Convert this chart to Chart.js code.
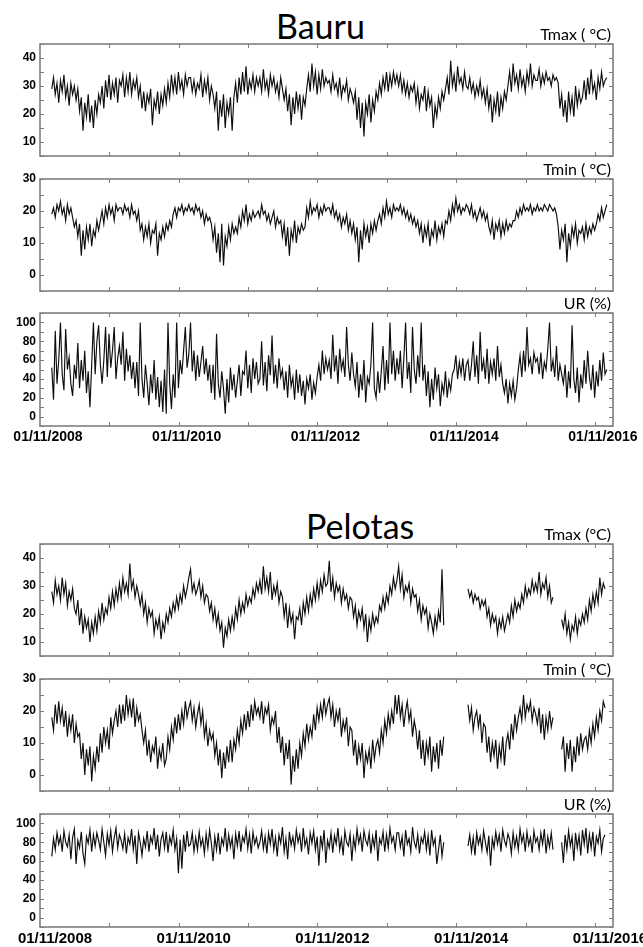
<!DOCTYPE html>
<html lang="pt-BR">
  <head>
    <meta charset="UTF-8" />
    <title>Bauru e Pelotas - séries diárias</title>
    <script src="https://cdn.jsdelivr.net/npm/chart.js"></script>
    <style>
      body { margin: 0; background: #fff; width: 643px; height: 947px; position: relative; overflow: hidden; }
      .painel { position: absolute; left: 0; }
      .cidade { position: absolute; font-family: Lato, sans-serif; font-size: 34px; line-height: 34px; color: #000; }
    </style>
  </head>
<body>
    <div class="cidade" style="left:276px; top:9px;">Bauru</div>
    <div class="painel" style="top:22px"><canvas id="bauruTmax" width="643" height="138"></canvas></div>
    <div class="painel" style="top:157px"><canvas id="bauruTmin" width="643" height="138"></canvas></div>
    <div class="painel" style="top:291px"><canvas id="bauruUR" width="643" height="157"></canvas></div>

    <div class="cidade" style="left:306px; top:509px;">Pelotas</div>
    <div class="painel" style="top:522px"><canvas id="pelotasTmax" width="643" height="138"></canvas></div>
    <div class="painel" style="top:657px"><canvas id="pelotasTmin" width="643" height="138"></canvas></div>
    <div class="painel" style="top:792px"><canvas id="pelotasUR" width="643" height="157"></canvas></div>

  <script>
    // eixo x em anos contados a partir de 01/11/2008; um valor a cada 0,025 ano (~9 dias), 40 por linha
    var inicio = 0.17;
    var passo = 0.025;
    var anosRotulos = [0, 2, 4, 6, 8];
    var rotulosX = ["01/11/2008", "01/11/2010", "01/11/2012", "01/11/2014", "01/11/2016"];
    var ticksTmax = [10, 20, 30, 40];
    var ticksTmin = [0, 10, 20, 30];
    var ticksUR = [0, 20, 40, 60, 80, 100];

    //BAURU
    var tmaxBauru = [
        29,33,27,31,24,32,28,34,26,30,23,31,27,30,25,29,21,26,14,24,19,27,17,23,15,25,20,27,24,30,22,32,26,34,25,31,27,33,24,32,
        30,34,26,33,28,35,27,32,29,33,26,30,22,28,21,27,24,29,16,25,22,28,20,27,23,29,24,31,26,34,28,33,27,35,29,32,27,34,30,33,
        33,28,32,27,31,29,34,26,32,28,33,25,30,27,22,28,14,25,19,27,15,24,20,26,14,26,31,24,33,27,35,28,37,27,32,29,34,28,33,30,
        33,28,36,29,32,27,34,30,33,28,31,26,33,29,25,29,21,27,16,26,20,28,22,27,18,26,23,29,34,28,38,30,35,27,34,29,36,30,33,31,
        32,28,34,29,31,27,33,26,30,28,32,25,29,27,24,28,18,26,15,24,12,24,20,27,17,25,21,28,25,31,27,33,29,35,28,34,30,35,31,34,
        30,34,28,32,27,31,26,30,28,31,24,29,22,27,25,30,21,28,23,26,15,23,19,26,22,28,25,29,33,27,39,30,34,28,37,31,33,29,35,30,
        29,33,28,31,26,30,27,32,26,29,24,29,22,27,17,25,21,28,19,26,22,28,25,30,35,28,38,31,34,29,36,30,33,28,35,31,38,30,34,32,
        32,36,30,34,31,35,32,33,30,34,32,33,31,22,27,19,25,17,28,21,26,19,30,23,28,24,26,32,25,33,27,36,28,31,25,33,29,35,30,32,
        33
    ];
    var tminBauru = [
        19,21,18,22,20,23,19,21,17,22,19,21,18,15,17,12,16,6,14,8,15,11,16,9,14,12,17,14,17,20,16,21,18,22,19,21,17,22,20,21,
        21,19,22,20,21,18,22,19,20,17,20,14,16,11,15,12,16,10,14,13,16,6,13,11,15,12,16,14,17,15,19,21,18,21,20,22,19,21,20,22,
        20,21,19,22,20,21,18,20,16,19,17,18,16,11,15,7,13,4,16,3,12,9,15,11,16,13,15,13,18,15,20,17,22,16,19,17,20,18,19,20,
        18,22,19,20,17,19,16,18,20,15,18,16,17,12,16,9,15,6,14,11,17,10,15,13,16,14,15,21,18,23,19,21,20,22,18,21,19,22,20,21,
        21,19,22,18,20,17,19,15,18,16,19,14,17,13,16,11,15,4,14,8,16,12,15,10,16,13,17,14,17,19,16,21,18,23,19,21,18,22,20,21,
        20,22,19,21,18,20,17,19,16,18,15,17,13,16,10,15,12,16,9,14,12,17,11,15,13,16,12,17,16,20,17,22,19,24,20,22,19,21,20,22,
        21,19,22,18,20,17,19,21,18,20,17,19,15,13,17,11,16,14,17,12,16,13,17,14,16,15,17,17,20,18,21,19,22,20,21,20,22,19,21,20,
        22,20,21,20,22,21,20,22,21,20,21,19,15,8,14,11,16,4,13,9,15,12,16,10,14,13,15,11,16,12,15,13,16,14,16,19,17,21,18,20,
        22
    ];
    var urBauru = [
        52,18,91,35,60,100,45,28,93,50,63,35,22,55,40,78,30,60,38,70,25,48,10,55,100,45,80,97,55,35,60,95,42,88,52,70,95,40,62,75,
        55,90,38,72,48,65,40,58,30,58,22,100,40,20,55,35,12,45,25,60,18,42,10,38,5,50,3,100,35,8,45,20,100,30,60,45,70,95,52,66,
        100,48,70,38,65,42,58,75,45,62,38,55,25,55,18,88,35,20,48,30,3,40,15,52,28,45,20,38,55,22,48,45,70,30,55,25,62,40,58,35,
        40,80,33,58,27,65,44,86,35,55,30,62,42,50,28,48,20,55,32,42,18,50,25,45,22,38,13,40,30,45,18,36,25,42,55,38,70,45,62,50,
        60,40,87,48,65,35,72,50,60,42,95,55,38,68,45,32,58,20,45,28,60,15,42,35,55,100,30,20,48,25,48,75,28,60,35,100,45,70,38,62,
        45,70,30,62,100,40,58,25,95,50,35,65,42,100,38,55,22,48,10,40,18,52,30,45,11,35,25,48,20,38,28,45,50,65,40,58,45,62,38,55,
        60,38,55,80,42,65,35,90,48,60,40,72,35,58,45,62,38,75,42,55,35,25,40,14,35,22,38,18,30,50,65,42,70,48,95,55,62,45,68,58,
        62,45,68,40,58,50,72,100,48,60,42,75,38,55,45,35,55,20,48,30,97,40,25,52,15,45,30,60,35,70,42,28,55,20,48,32,60,38,68,45,
        50
    ];

    //PELOTAS (null = falha nos dados)
    var tmaxPelotas = [
        28,24,32,27,30,25,33,27,31,23,28,25,29,22,20,25,16,22,13,19,15,18,10,17,13,19,14,21,17,24,18,22,20,26,22,28,23,29,25,31,
        26,33,28,31,27,38,29,32,26,30,27,23,27,20,24,17,22,19,21,13,18,15,19,11,17,14,20,17,22,19,24,21,26,22,27,24,30,26,29,33,
        36,28,31,27,29,32,26,30,24,27,26,21,24,18,22,16,20,14,17,8,15,12,18,14,19,15,22,18,25,20,24,21,27,23,26,24,29,26,31,28,
        32,27,37,29,33,28,35,25,30,27,31,24,28,26,19,24,15,22,17,20,11,19,18,22,16,24,20,26,21,27,23,29,25,31,26,32,28,34,30,31,
        39,28,33,26,31,28,30,24,29,25,27,22,26,25,19,23,16,21,18,22,15,20,10,18,14,20,16,19,17,23,21,26,22,27,24,30,27,33,29,32,
        37,29,34,26,30,28,31,24,29,26,27,21,25,18,23,20,22,15,20,17,13,19,15,21,17,36,16,null,null,null,null,null,null,null,null,null,null,null,null,null,
        29,26,28,24,27,25,26,22,25,23,25,19,22,16,20,17,19,13,18,15,19,14,17,20,17,23,19,25,21,24,22,27,24,30,26,29,27,32,28,31,
        28,35,27,31,29,33,26,30,24,26,null,null,null,null,18,15,20,13,17,11,16,14,19,13,18,16,20,17,22,18,25,21,27,23,28,24,33,27,31,29,
        null
    ];
    var tminPelotas = [
        18,14,22,16,23,17,21,15,20,12,18,14,19,10,16,12,13,5,10,0,8,3,9,-2,6,2,9,4,13,7,15,10,14,8,18,13,17,20,15,22,
        16,22,17,25,19,23,18,24,15,21,17,19,14,10,14,6,11,4,9,7,12,2,8,5,10,3,5,12,8,15,11,18,13,19,14,20,16,23,18,21,
        23,17,21,15,19,22,16,20,12,16,9,14,11,13,6,10,3,8,-1,7,2,9,4,11,4,11,8,14,10,17,13,19,14,20,15,22,17,23,19,21,
        18,23,16,21,19,22,14,18,16,20,10,15,7,12,3,10,5,11,-3,6,1,8,2,10,6,13,9,16,11,15,12,19,14,21,17,22,18,24,19,22,
        24,18,22,15,20,17,21,12,17,14,18,9,15,14,6,11,3,9,5,10,-1,7,4,8,2,11,5,9,11,7,14,10,17,13,19,15,20,16,25,19,
        25,18,22,15,20,23,17,20,12,17,14,8,14,5,11,3,10,6,12,1,9,4,10,2,11,6,12,null,null,null,null,null,null,null,null,null,null,null,null,null,
        22,17,21,14,18,20,15,19,10,16,15,7,12,4,10,6,11,2,9,5,12,3,10,13,8,16,11,19,14,18,21,17,25,18,22,20,23,17,21,19,
        16,21,13,19,11,18,14,20,15,18,null,null,null,null,8,12,1,10,5,11,1,9,4,12,6,13,8,11,12,8,14,10,16,12,18,14,20,17,23,21,
        null
    ];
    var urPelotas = [
        65,84,72,90,78,86,70,92,80,75,88,62,85,94,57,82,74,91,68,57,86,79,93,70,88,76,90,82,72,94,80,66,89,77,92,70,85,95,74,88,
        82,73,89,68,85,78,94,72,87,57,90,80,66,84,75,92,70,86,79,95,72,88,65,83,90,74,91,69,86,78,93,72,84,47,83,52,88,70,92,76,
        78,90,70,85,72,91,76,84,68,89,74,93,79,60,86,72,90,67,84,77,95,70,88,75,85,62,89,76,92,70,86,80,94,73,88,68,91,78,85,74,
        80,92,73,86,68,90,78,94,72,85,65,88,79,96,70,84,62,91,77,86,73,93,80,88,70,95,76,84,67,90,79,92,72,86,55,87,74,93,58,82,
        74,90,69,87,78,95,72,84,66,92,80,76,89,60,85,73,94,79,88,70,92,82,77,90,68,86,75,93,60,84,78,91,70,88,74,95,80,86,72,90,
        90,75,86,65,93,78,84,70,96,80,74,88,68,85,79,91,72,87,66,93,77,84,57,72,88,65,80,null,null,null,null,null,null,null,null,null,null,null,null,null,
        76,88,70,85,66,90,78,86,72,92,80,69,87,55,84,74,91,78,88,70,93,82,76,89,83,68,90,75,86,72,94,80,88,70,91,77,85,69,92,80,
        85,72,90,78,94,68,86,75,90,72,null,null,null,null,80,58,88,72,92,76,86,60,90,74,87,66,93,78,95,68,88,74,91,65,86,79,93,70,84,88,
        null
    ];

    // moldura cinza com marcas internas (estilo matlab) e nome da variável acima
    const moldura = {
        id: "moldura",
        afterDraw(chart, args, opts) {
            const ctx = chart.ctx;
            const a = chart.chartArea;
            const sx = chart.scales.x;
            const sy = chart.scales.y;
            ctx.save();
            ctx.strokeStyle = "#7f7f7f";
            ctx.lineWidth = 1;
            ctx.beginPath();
            for (let v = Math.ceil(sy.min / opts.passoY) * opts.passoY; v <= sy.max; v += opts.passoY) {
                const py = Math.round(sy.getPixelForValue(v)) + 0.5;
                ctx.moveTo(a.left, py); ctx.lineTo(a.left + 4, py);
                ctx.moveTo(a.right, py); ctx.lineTo(a.right - 4, py);
            }
            for (let ano = 1; ano <= Math.floor(sx.max); ano++) {
                const px = Math.round(sx.getPixelForValue(ano)) + 0.5;
                ctx.moveTo(px, a.top); ctx.lineTo(px, a.top + 4);
                ctx.moveTo(px, a.bottom); ctx.lineTo(px, a.bottom - 4);
            }
            ctx.stroke();
            ctx.lineWidth = 1.6;
            ctx.strokeRect(a.left, a.top, a.width, a.height);
            ctx.fillStyle = "#000";
            ctx.font = "16px Lato";
            ctx.textAlign = "right";
            ctx.textBaseline = "alphabetic";
            ctx.fillText(opts.rotulo, a.right - 2, a.top - 4);
            ctx.restore();
        }
    };

    function criarPainel(idCanvas, valores, yMin, yMax, yTicks, passoY, rotulo, comDatas, deslocRotulo, fonteDatas) {
        const pontos = valores.map((v, i) => ({ x: inicio + i * passo, y: v }));
        const config = {
            type: "line",
            data: {
                datasets: [{
                    data: pontos,
                    borderColor: "#0d0d0d",
                    borderWidth: 1.15,
                    pointRadius: 0,
                    tension: 0,
                    spanGaps: false
                }]
            },
            options: {
                responsive: false,
                animation: false,
                events: [],
                layout: { padding: { left: 0, right: 30, top: 22, bottom: comDatas ? 0 : 4 } },
                plugins: {
                    legend: { display: false },
                    tooltip: { enabled: false },
                    moldura: { rotulo: rotulo, passoY: passoY }
                },
                scales: {
                    x: {
                        type: "linear",
                        min: 0,
                        max: 8.26,
                        display: comDatas,
                        grid: { display: false, drawTicks: false },
                        border: { display: false },
                        afterBuildTicks: s => { s.ticks = anosRotulos.map(v => ({ value: v })); },
                        afterFit: s => { s.height = comDatas ? 22 : 0; s.paddingLeft = 0; s.paddingRight = 0; },
                        ticks: {
                            autoSkip: false,
                            maxRotation: 0,
                            padding: 3,
                            labelOffset: deslocRotulo,
                            color: "#000",
                            font: { family: "Liberation Sans", size: fonteDatas, weight: "bold" },
                            callback: v => rotulosX[anosRotulos.indexOf(v)]
                        }
                    },
                    y: {
                        min: yMin,
                        max: yMax,
                        grid: { display: false, drawTicks: false },
                        border: { display: false },
                        afterBuildTicks: s => { s.ticks = yTicks.map(v => ({ value: v })); },
                        afterFit: s => { s.width = 40; s.paddingTop = 0; s.paddingBottom = 0; },
                        ticks: {
                            padding: 4,
                            color: "#000",
                            font: { family: "Liberation Sans", size: 12, weight: "bold" }
                        }
                    }
                }
            },
            plugins: [moldura]
        };
        return new Chart(document.getElementById(idCanvas), config);
    }

    criarPainel("bauruTmax", tmaxBauru, 5, 45, ticksTmax, 5, "Tmax ( °C)", false, 8, 14);
    criarPainel("bauruTmin", tminBauru, -5, 30, ticksTmin, 5, "Tmin ( °C)", false, 8, 14);
    criarPainel("bauruUR", urBauru, -10, 110, ticksUR, 10, "UR (%)", true, 8, 14);

    criarPainel("pelotasTmax", tmaxPelotas, 5, 45, ticksTmax, 5, "Tmax (°C)", false, 15, 15);
    criarPainel("pelotasTmin", tminPelotas, -5, 30, ticksTmin, 5, "Tmin ( °C)", false, 15, 15);
    criarPainel("pelotasUR", urPelotas, -10, 110, ticksUR, 10, "UR (%)", true, 15, 15);

  </script>
</body>
</html>
